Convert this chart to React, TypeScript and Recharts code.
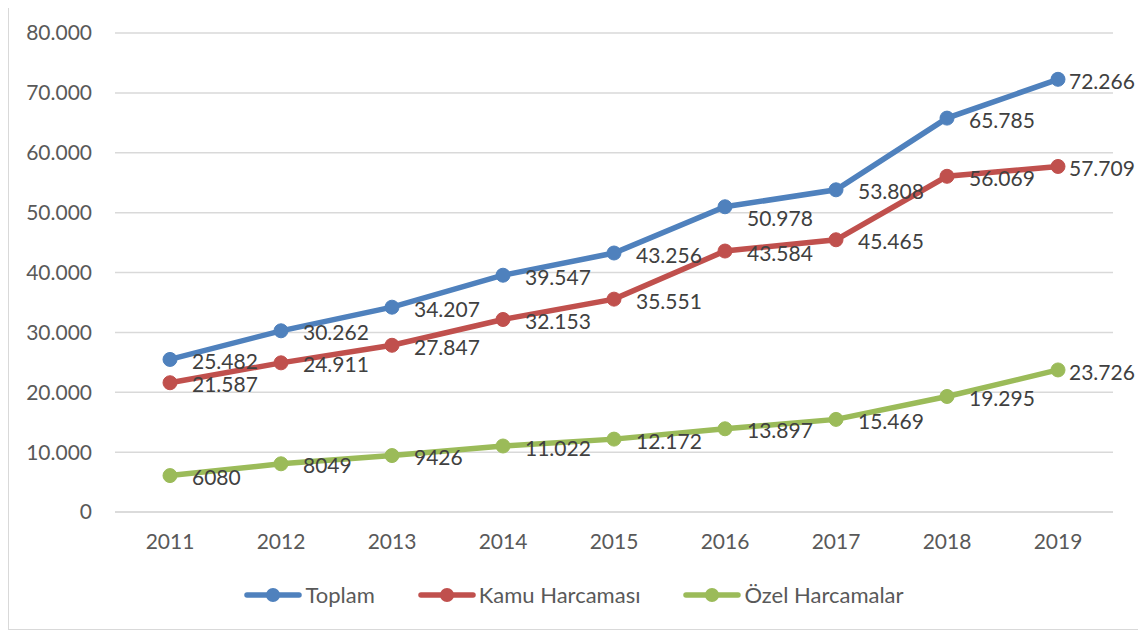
import React from 'react';
import { CartesianGrid, LabelList, Line, LineChart, XAxis, YAxis } from 'recharts';

const years = ['2011', '2012', '2013', '2014', '2015', '2016', '2017', '2018', '2019'];
const toplam = [25482, 30262, 34207, 39547, 43256, 50978, 53808, 65785, 72266];
const kamu = [21587, 24911, 27847, 32153, 35551, 43584, 45465, 56069, 57709];
const ozel = [6080, 8049, 9426, 11022, 12172, 13897, 15469, 19295, 23726];
const yTicks = [0, 10000, 20000, 30000, 40000, 50000, 60000, 70000, 80000];

const series = [
  { key: 'toplam', name: 'Toplam', color: '#4F81BD' },
  { key: 'kamu', name: 'Kamu Harcaması', color: '#C0504D' },
  { key: 'ozel', name: 'Özel Harcamalar', color: '#9BBB59' },
];

const data = years.map((year, i) => ({
  year,
  toplam: toplam[i],
  kamu: kamu[i],
  ozel: ozel[i],
}));

const FONT = 'Lato, "Open Sans", sans-serif';

// values under 10.000 are shown without a separator in the original
const fmt = (v: number) => {
  if (v < 10000) return String(v);
  return String(v).replace(/\B(?=(\d{3})+(?!\d))/g, '.');
};

const makeLabel = (seriesKey: string) => (props: any) => {
  const { x, y, value, index } = props;
  const last = index === years.length - 1;
  // the 2016 "Toplam" label sits a little lower in the original
  const down = seriesKey === 'toplam' && index === 5 ? 12 : 2;
  return (
    <text
      x={x + (last ? 11 : 22)}
      y={y + down}
      dy="0.36em"
      fill="#404040"
      fontSize={21}
      fontFamily={FONT}
      textAnchor="start"
    >
      {fmt(value)}
    </text>
  );
};

const LegendIcon = ({ color }: { color: string }) => (
  <svg width={58} height={18} style={{ display: 'block' }}>
    <line x1={3} y1={9} x2={55} y2={9} stroke={color} strokeWidth={5.5} strokeLinecap="round" />
    <circle cx={29} cy={9} r={7} fill={color} />
  </svg>
);

export default function App() {
  return (
    <div
      style={{
        position: 'relative',
        width: 1132,
        height: 626,
        marginTop: -4,
        border: '1px solid #d9d9d9',
        boxSizing: 'border-box',
        background: '#fff',
      }}
    >
      <LineChart
        width={1130}
        height={624}
        data={data}
        margin={{ top: 28, right: 26, bottom: 87, left: 26 }}
      >
        <CartesianGrid vertical={false} stroke="#d9d9d9" strokeWidth={1.5} />
        <XAxis
          dataKey="year"
          padding={{ left: 55, right: 55 }}
          axisLine={{ stroke: '#d9d9d9', strokeWidth: 1.5 }}
          tickLine={false}
          tickSize={0}
          tickMargin={22}
          height={30}
          tick={{ fill: '#595959', fontSize: 21, fontFamily: FONT }}
        />
        <YAxis
          domain={[0, 80000]}
          ticks={yTicks}
          width={80}
          axisLine={false}
          tickLine={false}
          tickSize={0}
          tickMargin={23}
          tickFormatter={(v: number) => (v === 0 ? '0' : fmt(v))}
          tick={{ fill: '#595959', fontSize: 21, fontFamily: FONT }}
        />
        {series.map((s) => (
          <Line
            key={s.key}
            dataKey={s.key}
            name={s.name}
            type="linear"
            stroke={s.color}
            strokeWidth={5.5}
            dot={{ r: 7, fill: s.color, stroke: s.color, strokeWidth: 1 }}
            activeDot={false}
            isAnimationActive={false}
          >
            <LabelList dataKey={s.key} content={makeLabel(s.key)} />
          </Line>
        ))}
      </LineChart>
      <div
        style={{
          position: 'absolute',
          top: 577,
          left: 0,
          width: '100%',
          display: 'flex',
          justifyContent: 'center',
          gap: 43,
          fontFamily: FONT,
          fontSize: 22,
          color: '#595959',
          lineHeight: '26px',
        }}
      >
        {series.map((s) => (
          <div key={s.key} style={{ display: 'flex', alignItems: 'center', gap: 3 }}>
            <LegendIcon color={s.color} />
            <span>{s.name}</span>
          </div>
        ))}
      </div>
    </div>
  );
}
